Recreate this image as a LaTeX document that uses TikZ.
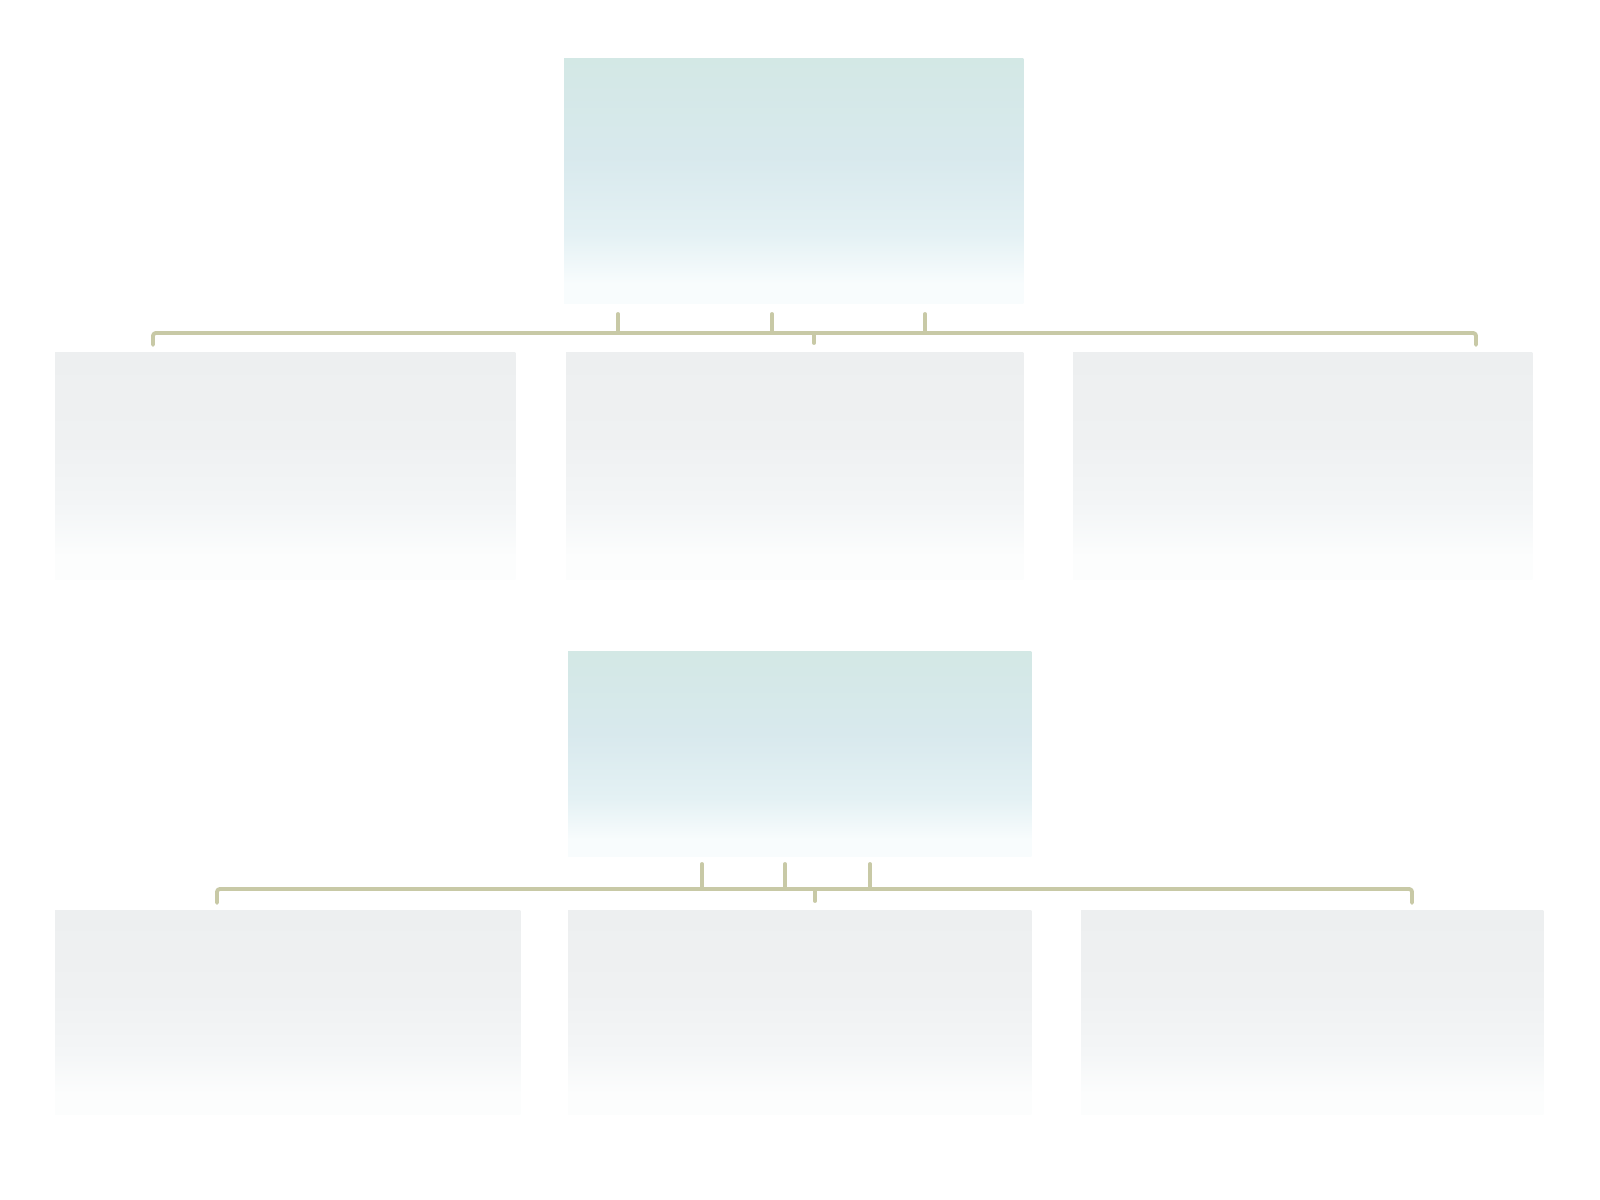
\documentclass[tikz,border=0pt]{standalone}
\usetikzlibrary{calc}
\definecolor{headtop}{HTML}{D3E8E5}
\definecolor{headmid}{HTML}{D8E9ED}
\definecolor{headlow}{HTML}{E4F1F4}
\definecolor{headbot}{HTML}{F8FCFD}
\definecolor{subtop}{HTML}{EDEFF0}
\definecolor{submid}{HTML}{EFF1F2}
\definecolor{sublow}{HTML}{F4F6F7}
\definecolor{subbot}{HTML}{FCFDFD}
\definecolor{busline}{RGB}{200,201,166}
\pgfdeclareverticalshading{headshade}{100bp}{color(0bp)=(headbot); color(29bp)=(headbot); color(39bp)=(headlow); color(55bp)=(headmid); color(75bp)=(headtop); color(100bp)=(headtop)}
\pgfdeclareverticalshading{subshade}{100bp}{color(0bp)=(subbot); color(30bp)=(subbot); color(40bp)=(sublow); color(55bp)=(submid); color(75bp)=(subtop); color(100bp)=(subtop)}
\tikzset{
  headbox/.style={rectangle, anchor=north west, inner sep=0pt, outer sep=0pt,
    shading=headshade, draw=none},
  subbox/.style={rectangle, anchor=north west, inner sep=0pt, outer sep=0pt,
    shading=subshade, draw=none},
  bus/.style={draw=busline, line width=1.1pt, line cap=round, line join=round, rounded corners=0.8pt},
}
\begin{document}
\begin{tikzpicture}[x=0.01cm, y=-0.01cm]
\useasboundingbox (0,0) rectangle (1600,1200);
\fill[white] (0,0) rectangle (1600,1200);

% level 1
\node[headbox, minimum width=4.59cm, minimum height=2.45cm] (top1) at (564,58) {};
\node[subbox, minimum width=4.60cm, minimum height=2.27cm] (r1a) at (55,352) {};
\node[subbox, minimum width=4.57cm, minimum height=2.27cm] (r1b) at (566,352) {};
\node[subbox, minimum width=4.59cm, minimum height=2.27cm] (r1c) at (1073,352) {};

% level 2
\node[headbox, minimum width=4.63cm, minimum height=2.05cm] (top2) at (568,651) {};
\node[subbox, minimum width=4.65cm, minimum height=2.04cm] (r2a) at (55,910) {};
\node[subbox, minimum width=4.63cm, minimum height=2.04cm] (r2b) at (568,910) {};
\node[subbox, minimum width=4.62cm, minimum height=2.04cm] (r2c) at (1081,910) {};

% bus 1 coordinates
\coordinate (j1) at (814,333);
\coordinate (t1a) at (618,314);
\coordinate (t1b) at (772,314);
\coordinate (t1c) at (925,314);
\coordinate (e1l) at (153,345);
\coordinate (e1r) at (1476,345);
\coordinate (d1) at (814,343);

\draw[bus] (e1l) -- (e1l |- j1) -- (e1r |- j1) -- (e1r);
\draw[bus] (t1a) -- (t1a |- j1);
\draw[bus] (t1b) -- (t1b |- j1);
\draw[bus] (t1c) -- (t1c |- j1);
\draw[bus] (j1) -- (d1);

% bus 2 coordinates
\coordinate (j2) at (815,889);
\coordinate (t2a) at (702,864);
\coordinate (t2b) at (785,864);
\coordinate (t2c) at (870,864);
\coordinate (e2l) at (217,903);
\coordinate (e2r) at (1412,903);
\coordinate (d2) at (815,901);

\draw[bus] (e2l) -- (e2l |- j2) -- (e2r |- j2) -- (e2r);
\draw[bus] (t2a) -- (t2a |- j2);
\draw[bus] (t2b) -- (t2b |- j2);
\draw[bus] (t2c) -- (t2c |- j2);
\draw[bus] (j2) -- (d2);
\end{tikzpicture}
\end{document}
